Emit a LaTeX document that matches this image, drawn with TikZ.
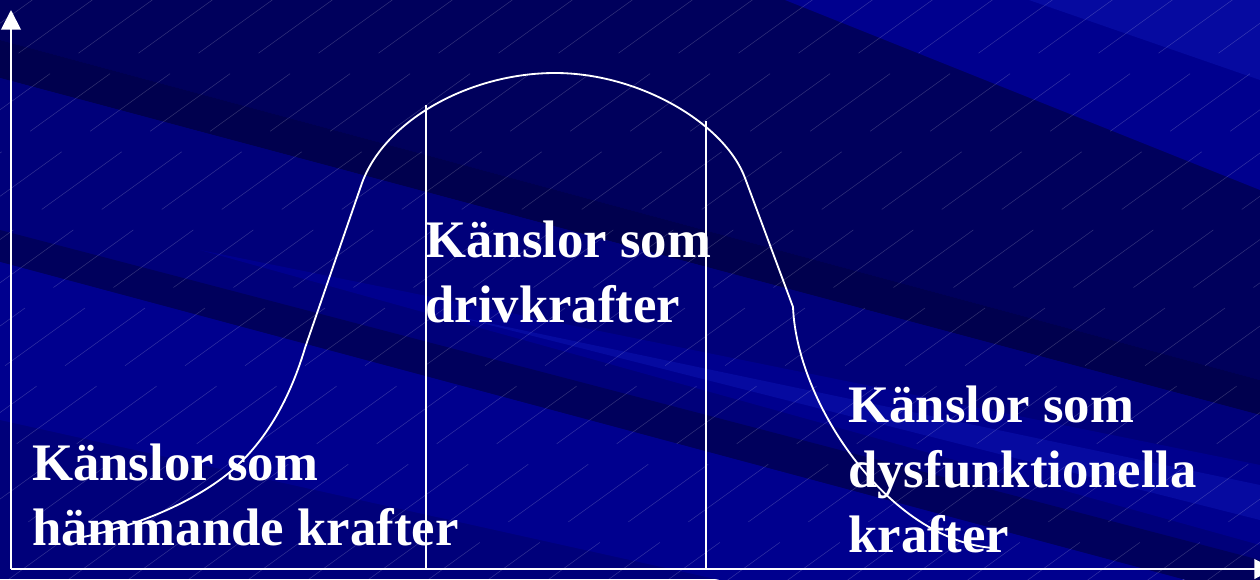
\documentclass[tikz,border=0pt]{standalone}
\usepackage{fontspec}
\setmainfont{Liberation Serif}
\usetikzlibrary{arrows.meta}

\definecolor{navybase}{RGB}{0,0,122}
\definecolor{navydark}{RGB}{0,0,92}
\definecolor{navydeep}{RGB}{0,0,78}
\definecolor{navylight}{RGB}{0,0,142}
\definecolor{navybright}{RGB}{6,10,160}

\begin{document}
\begin{tikzpicture}[
    x=0.025cm, y=-0.025cm,
    band/.style={fill=#1, draw=none},
    streak/.style={white, opacity=0.2, line width=0.35pt, dash pattern=on 70pt off 25pt},
    axis/.style={white, line width=1.4pt, -{Triangle[length=14pt, width=14pt]}},
    divider/.style={white, line width=1pt},
    curve/.style={white, line width=1.3pt, line join=round},
    label/.style={text=white, font=\bfseries\fontsize{37.5}{46}\selectfont,
        inner sep=0pt, anchor=base west, align=left}
]

\useasboundingbox (0,0) rectangle (1260,579);

% Background with diagonal bands
\begin{scope}
\clip (0,0) rectangle (1260,579);
\fill[navybase] (0,0) rectangle (1260,579);
\fill[band=navydark]  (0,-60) -- (1260,-60) -- (1260,380) -- (0,40) -- cycle;
\fill[band=navydeep]  (0,40) -- (1260,380) -- (1260,415) -- (0,78) -- cycle;
\fill[band=navybase]  (0,78) -- (1260,415) -- (1260,560) -- (0,230) -- cycle;
\fill[band=navydark]  (0,230) -- (1260,560) -- (1260,600) -- (0,262) -- cycle;
\fill[band=navylight] (0,262) -- (1260,600) -- (1260,700) -- (0,420) -- cycle;
\fill[band=navylight] (200,250) -- (1260,465) -- (1260,545) -- cycle;
\fill[band=navybright](450,315) -- (1260,485) -- (1260,520) -- cycle;
\fill[band=navylight] (760,-10) -- (1260,-10) -- (1260,190) -- cycle;
\fill[band=navybright](1000,-10) -- (1260,-10) -- (1260,80) -- cycle;
\foreach \s in {-800,-740,...,1300}
    \draw[streak] (\s,600) -- ++(860,-620);
\end{scope}

% Axes
\coordinate (origin) at (11,569);
\coordinate (ytop)   at (11,10);
\coordinate (xend)   at (1274,569);
\draw[axis] (origin) -- (ytop);
\draw[axis] (origin) -- (xend);

% Dividers
\coordinate (midtop)   at (426,105);
\coordinate (righttop) at (706,121);
\draw[divider] (midtop)   -- (midtop |- origin);
\draw[divider] (righttop) -- (righttop |- origin);

% Bell curve
\draw[curve] (78,538)
    .. controls (130,528) and (190,505) .. (230,472)
    .. controls (262,445) and (288,405) .. (305,348)
    -- (362,183)
    .. controls (385,120) and (470,73) .. (555,73)
    .. controls (640,73) and (725,124) .. (745,178)
    -- (793,307)
    .. controls (797,405) and (890,540) .. (993,548);

% Labels
\node[label] (inhibit) at (32,545) {Känslor som\\hämmande krafter};
\node[label] (drive)   at (425,322) {Känslor som\\drivkrafter};
\node[label] (dysfunc) at (848,552) {Känslor som\\dysfunktionella\\krafter};

\end{tikzpicture}
\end{document}
